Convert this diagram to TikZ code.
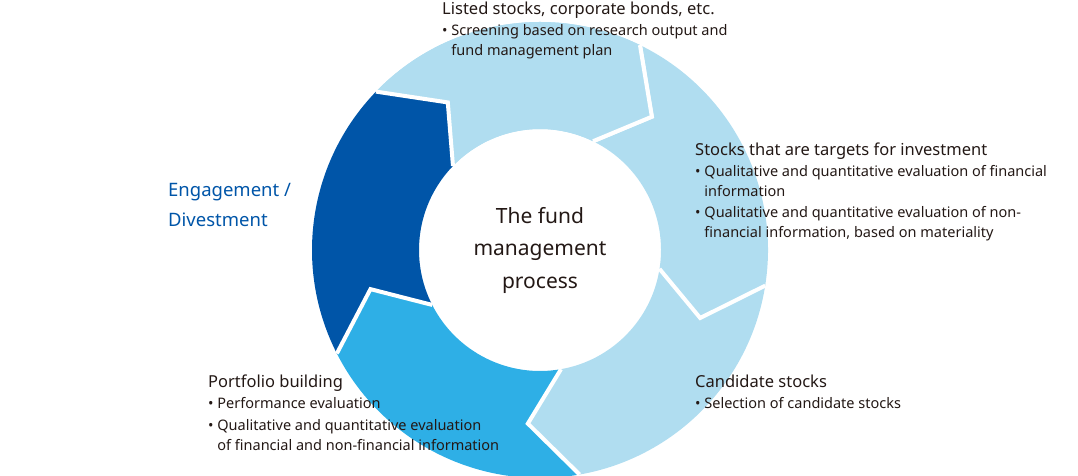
\documentclass[tikz,border=0pt]{standalone}
\usepackage{fontspec}
\setmainfont{Noto Sans}
\usetikzlibrary{positioning}
\definecolor{lightseg}{HTML}{B0DDF0}
\definecolor{darkseg}{HTML}{0055A8}
\definecolor{midseg}{HTML}{2EAFE6}
\definecolor{ink}{HTML}{231815}
\tikzset{
  head/.style={anchor=base west, font=\fontsize{16.5}{20}\selectfont\bfseries, text=ink, inner sep=0pt},
  desc/.style={anchor=north west, align=left, font=\fontsize{14.5}{20}\selectfont, text=ink, inner sep=0pt},
  seg/.style={draw=white, line width=4pt, line join=miter}
}
% annular arrow segment: start angle, end angle, colour
\newcommand{\ringseg}[3]{%
  \fill[#3] ([shift={(#1:228)}]ctr) arc[start angle=#1, end angle=#2, radius=228]
    -- ([shift={(#2-14:174)}]ctr) -- ([shift={(#2:121)}]ctr)
    arc[start angle=#2, end angle=#1, radius=121]
    -- ([shift={(#1-14:174)}]ctr) -- cycle;
  \draw[seg] ([shift={(#1:228)}]ctr) -- ([shift={(#1-14:174)}]ctr) -- ([shift={(#1:121)}]ctr);}
\newcommand{\bl}{\textbullet\ }
\newcommand{\ind}{\phantom{\textbullet\ }}

\begin{document}
\begin{tikzpicture}[x=1pt,y=1pt]
  \useasboundingbox (0,0) rectangle (1078,476);
  \coordinate (ctr) at (540,226);

  % ring
  \ringseg{136}{64}{lightseg}
  \ringseg{64}{-9}{lightseg}
  \ringseg{-9}{-80}{lightseg}
  \ringseg{-80}{-153}{midseg}
  \ringseg{207}{136}{darkseg}
  \ringseg{136}{64}{lightseg}
  \draw[seg] ([shift={(64:228)}]ctr) -- ([shift={(50:174)}]ctr) -- ([shift={(64:121)}]ctr);

  \node[align=center, font=\fontsize{21}{32.5}\selectfont\bfseries, text=ink] (title) at (ctr) {The fund\\management\\process};

  % top
  \node[head] (listed) at (442,461) {Listed stocks, corporate bonds, etc.};
  \node[desc] (listedtxt) at (442,452) {\bl Screening based on research output and\\\ind fund management plan};

  % right
  \node[head] (targets) at (695,320) {Stocks that are targets for investment};
  \node[desc] (targetstxt) at (695,311) {\bl Qualitative and quantitative evaluation of financial\\\ind information};
  \node[desc] (targetstxt2) at (695,270) {\bl Qualitative and quantitative evaluation of non-\\\ind financial information, based on materiality};

  % bottom right
  \node[head] (cand) at (695,88) {Candidate stocks};
  \node[desc] (candtxt) at (695,79) {\bl Selection of candidate stocks};

  % bottom left
  \node[head] (port) at (208,88) {Portfolio building};
  \node[desc] (porttxt) at (208,79) {\bl Performance evaluation};
  \node[desc] (porttxt2) at (208,57) {\bl Qualitative and quantitative evaluation\\\ind of financial and non-financial information};

  % left
  \node[anchor=north west, align=left, inner sep=0pt, font=\fontsize{18.5}{30}\selectfont\bfseries, text=darkseg] (engage) at (168,293) {Engagement /\\Divestment};
\end{tikzpicture}
\end{document}
